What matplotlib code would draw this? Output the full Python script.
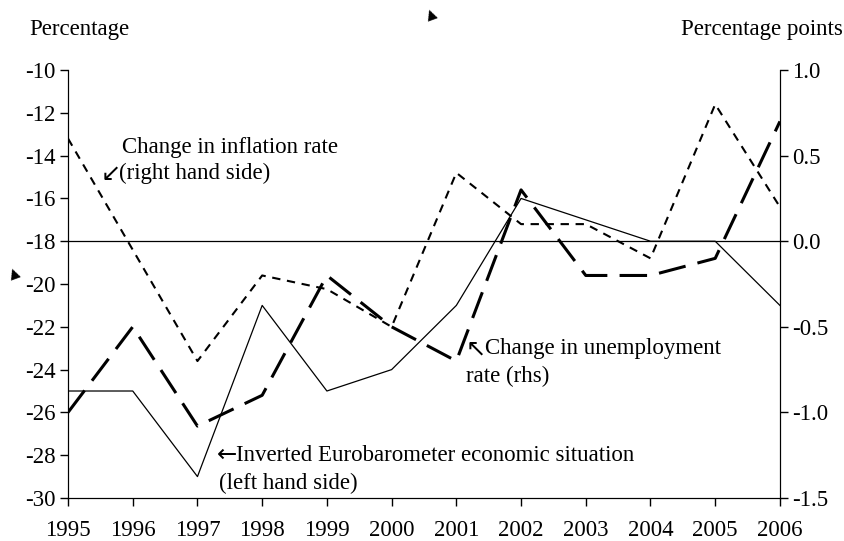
import matplotlib
matplotlib.use("Agg")
import matplotlib.pyplot as plt

plt.rcParams['font.family'] = ['Liberation Serif', 'DejaVu Serif']
plt.rcParams['axes.unicode_minus'] = False

years = [1995, 1996, 1997, 1998, 1999, 2000, 2001, 2002, 2003, 2004, 2005, 2006]
# inverted Eurobarometer economic situation, left axis (percentage)
euro = [-25, -25, -29, -21, -25, -24, -21, -16, -17, -18, -18, -21]
# change in unemployment rate, right axis (percentage points)
unemp = [-1.0, -0.5, -1.08, -0.9, -0.2, -0.5, -0.7, 0.3, -0.2, -0.2, -0.1, 0.7]
# change in inflation rate, right axis
infl = [0.6, -0.05, -0.7, -0.2, -0.28, -0.5, 0.4, 0.1, 0.1, -0.1, 0.8, 0.2]

left_ticks = [-30, -28, -26, -24, -22, -20, -18, -16, -14, -12, -10]
right_ticks = [-1.5, -1.0, -0.5, 0.0, 0.5, 1.0]

FS = 16.5

fig = plt.figure(figsize=(8.45, 5.41), dpi=100)
ax = fig.add_axes([0.0805, 0.0795, 0.8425, 0.791])
ax2 = ax.twinx()

ax.plot(years, euro, color='black', lw=0.9)
ax.axhline(-18, color='black', lw=0.9)
ax2.plot(years, unemp, color='black', lw=2.2, dashes=(9, 4))
ax2.plot(years, infl, color='black', lw=1.5, dashes=(4, 3.2))

ax.set_xlim(1995, 2006)
ax.set_ylim(-30, -10)
ax2.set_ylim(-1.5, 1.0)
ax.set_xticks(years)
ax.set_yticks(left_ticks)
ax2.set_yticks(right_ticks)
ax2.set_yticklabels(['%.1f' % v for v in right_ticks])

for a in (ax, ax2):
    a.spines['top'].set_visible(False)
    a.tick_params(labelsize=FS, length=6, width=1, direction='out', pad=3)
ax.tick_params(axis='x', pad=10)

fig.text(0.035, 0.965, 'Percentage', fontsize=FS, va='top')
fig.text(0.997, 0.965, 'Percentage points', fontsize=FS, va='top', ha='right')

arrow_font = dict(fontsize=FS + 1, va='center', family='DejaVu Sans')
ax.text(1995.83, -13.6, 'Change in inflation rate', fontsize=FS, va='center')
ax.text(1995.5, -14.85, '\u2199', **arrow_font)
ax.text(1995.78, -14.85, '(right hand side)', fontsize=FS, va='center')
ax.text(2001.14, -23.0, '\u2196', **arrow_font)
ax.text(2001.44, -23.0, 'Change in unemployment', fontsize=FS, va='center')
ax.text(2001.15, -24.3, 'rate (rhs)', fontsize=FS, va='center')
ax.text(1997.3, -28.0, '\u2190', **arrow_font)
ax.text(1997.6, -28.0, 'Inverted Eurobarometer economic situation', fontsize=FS, va='center')
ax.text(1997.33, -29.3, '(left hand side)', fontsize=FS, va='center')

# scan marks
fig.text(0.51, 0.975, '\u25b2', fontsize=10, ha='center', va='center', rotation=20, family='DejaVu Sans')
fig.text(0.017, 0.495, '\u25b2', fontsize=10, ha='center', va='center', rotation=20, family='DejaVu Sans')

fig.savefig('out.png', dpi=100)
